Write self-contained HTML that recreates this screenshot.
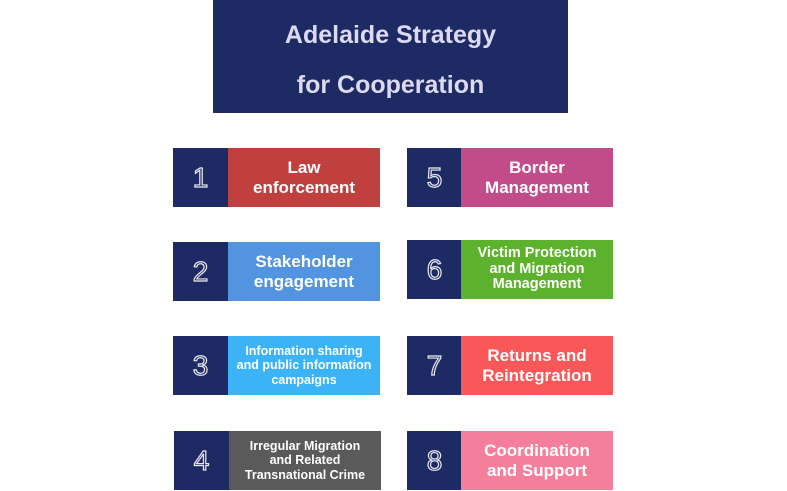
<!DOCTYPE html>
<html><head><style>
body{margin:0;width:787px;height:491px;background:#fff;position:relative;overflow:hidden;font-family:"Liberation Sans",sans-serif;}
.t{position:absolute;left:213px;top:0;width:355px;height:113px;background:#1e2a63;color:#dcdaf2;font-weight:bold;font-size:25px;text-align:center;}
.t div{position:absolute;width:100%;}
.n{position:absolute;width:55px;height:59px;background:#1e2a63;color:#1e2a63;-webkit-text-stroke:1.2px #e8e8f0;font-size:28px;display:flex;align-items:center;justify-content:center;}
.c{position:absolute;width:152px;height:59px;color:#fff;font-weight:bold;display:flex;align-items:center;justify-content:center;text-align:center;line-height:1.15;}
</style></head><body>
<div class="t"><div style="top:21px">Adelaide Strategy</div><div style="top:71px">for Cooperation</div></div>

<div class="n" style="left:173px;top:148px">1</div>
<div class="c" style="left:228px;top:148px;background:#c04040;font-size:17px">Law<br>enforcement</div>
<div class="n" style="left:173px;top:242px">2</div>
<div class="c" style="left:228px;top:242px;background:#5394e0;font-size:17px">Stakeholder<br>engagement</div>
<div class="n" style="left:173px;top:336px">3</div>
<div class="c" style="left:228px;top:336px;background:#3bb3f6;font-size:12.5px">Information sharing<br>and public information<br>campaigns</div>
<div class="n" style="left:174px;top:431px">4</div>
<div class="c" style="left:229px;top:431px;background:#5a5a5a;font-size:12.5px">Irregular Migration<br>and Related<br>Transnational Crime</div>

<div class="n" style="left:407px;top:148px">5</div>
<div class="c" style="left:461px;top:148px;background:#c24b8a;font-size:17px">Border<br>Management</div>
<div class="n" style="left:407px;top:240px">6</div>
<div class="c" style="left:461px;top:240px;background:#5cb22c;font-size:14.5px;line-height:1.1">Victim Protection<br>and Migration<br>Management</div>
<div class="n" style="left:407px;top:336px">7</div>
<div class="c" style="left:461px;top:336px;background:#fa5858;font-size:17px">Returns and<br>Reintegration</div>
<div class="n" style="left:407px;top:431px">8</div>
<div class="c" style="left:461px;top:431px;background:#f37f9b;font-size:17px">Coordination<br>and Support</div>
</body></html>
